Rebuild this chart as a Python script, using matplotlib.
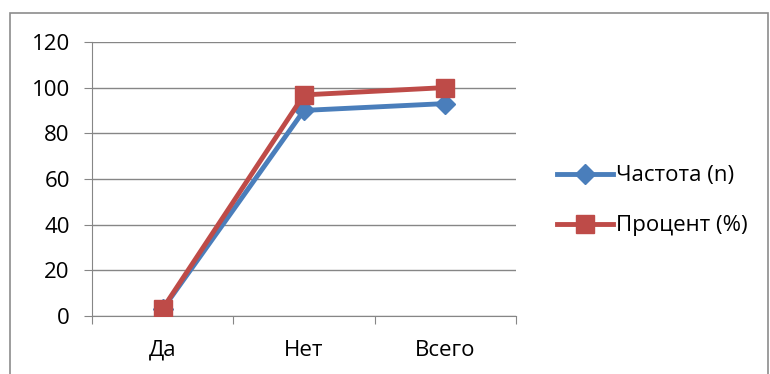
import matplotlib.pyplot as plt
from matplotlib.patches import Rectangle

categories = ["Да", "Нет", "Всего"]
freq = [3, 90, 93]
percent = [3.2, 96.8, 100]
series_names = ["Частота (n)", "Процент (%)"]
yticks = [0, 20, 40, 60, 80, 100, 120]

plt.rcParams['font.family'] = ['Open Sans', 'DejaVu Sans']

fig = plt.figure(figsize=(7.7, 3.74), dpi=100)
ax = fig.add_axes([0.1195, 0.155, 0.5505, 0.733])

# рамка области диаграммы
fig.patches.append(Rectangle((10 / 770, -0.01), 758 / 770, 1.01 - 13 / 374,
                             transform=fig.transFigure, fill=False,
                             edgecolor='#8c8c8c', linewidth=1.2))

x = range(len(categories))
ax.plot(x, freq, color='#4a7ebb', linewidth=3.5, marker='D', markersize=10,
        label=series_names[0], zorder=3)
ax.plot(x, percent, color='#be4b48', linewidth=3.5, marker='s', markersize=13,
        label=series_names[1], zorder=4)

ax.set_xlim(-0.5, 2.5)
ax.set_ylim(0, 120)
ax.set_yticks(yticks)
ax.set_xticks([-0.5, 0.5, 1.5, 2.5])
ax.set_xticklabels([])
ax.set_xticks(list(x), minor=True)
ax.set_xticklabels(categories, minor=True)
ax.tick_params(axis='x', which='minor', length=0, pad=17, labelsize=16)
ax.tick_params(axis='x', which='major', length=6, color='#868686')
ax.tick_params(axis='y', length=6, color='#868686', labelsize=16, pad=10)

ax.grid(axis='y', color='#868686', linewidth=1)
ax.set_axisbelow(True)
for side in ['top', 'right']:
    ax.spines[side].set_visible(False)
ax.spines['left'].set_color('#868686')
ax.spines['bottom'].set_color('#868686')

ax.legend(loc='center left', bbox_to_anchor=(1.05, 0.42), frameon=False,
          fontsize=16, handlelength=2.5, labelspacing=1.3, handletextpad=0.15)

fig.savefig('out.png', dpi=100)
